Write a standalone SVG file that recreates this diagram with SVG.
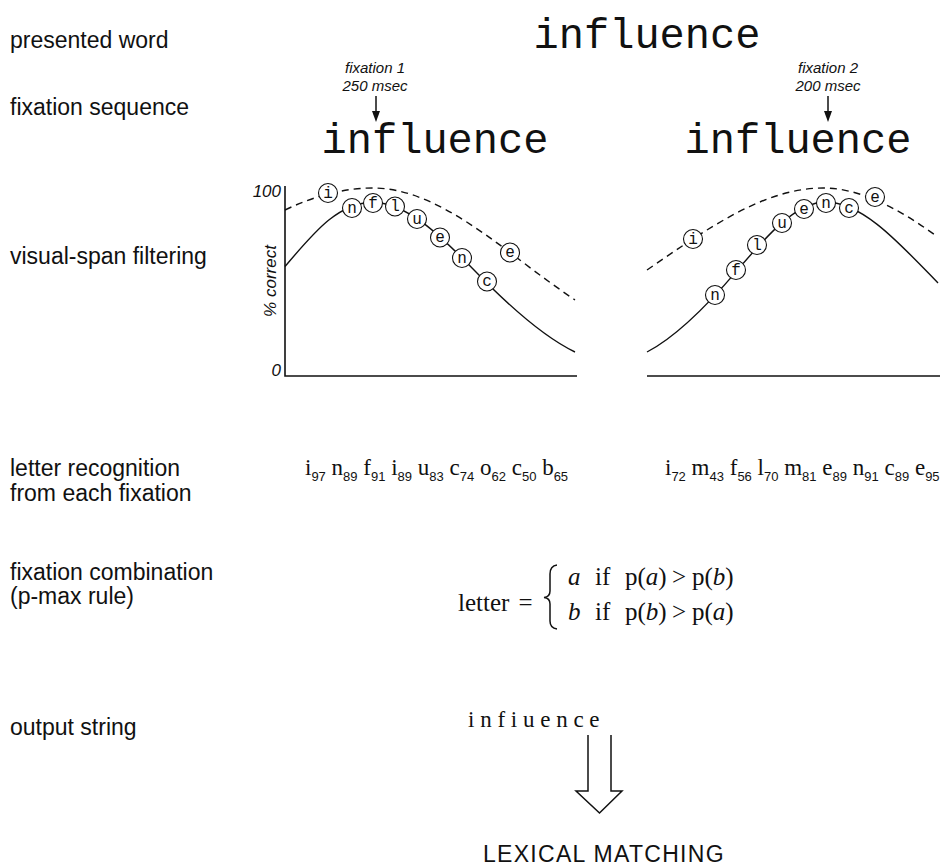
<svg xmlns="http://www.w3.org/2000/svg" width="945" height="867" viewBox="0 0 945 867">
<style>
.lbl{font-family:"Liberation Sans",Arial,sans-serif;font-size:23px;fill:#111}
.mono{font-family:"Liberation Mono","Courier New",monospace;font-size:42px;fill:#111;text-anchor:middle}
.fix{font-family:"Liberation Sans",Arial,sans-serif;font-style:italic;font-size:15px;fill:#111;text-anchor:middle}
.ax{font-family:"Liberation Sans",Arial,sans-serif;font-style:italic;font-size:17px;fill:#111}
.tm{font-family:"Liberation Serif","Times New Roman",serif;font-size:23px;fill:#111}
.sub{font-family:"Liberation Sans",Arial,sans-serif;font-size:13px}
.fm{font-family:"Liberation Serif","Times New Roman",serif;font-size:25px;fill:#111}
.it{font-style:italic}
.solid{fill:none;stroke:#111;stroke-width:1.4}
.dash{fill:none;stroke:#111;stroke-width:1.4;stroke-dasharray:7 5}
.axis{fill:none;stroke:#111;stroke-width:1.6}
.cir circle{fill:#fff;stroke:#111;stroke-width:1.1}
.cir text{font-family:"Liberation Mono","Courier New",monospace;font-size:16px;fill:#111;text-anchor:middle}
.line{fill:none;stroke:#111;stroke-width:1.5}
</style>
<g id="labels">
<text class="lbl" x="10" y="48">presented word</text>
<text class="lbl" x="10" y="115">fixation sequence</text>
<text class="lbl" x="10" y="264">visual-span filtering</text>
<text class="lbl" x="10" y="476">letter recognition</text>
<text class="lbl" x="10" y="501">from each fixation</text>
<text class="lbl" x="10" y="580">fixation combination</text>
<text class="lbl" x="10" y="604">(p-max rule)</text>
<text class="lbl" x="10" y="735">output string</text>
</g>
<g id="presented-word"><text class="mono" font-size="49" x="647" y="48">influence</text></g>
<g id="fixation1">
<text class="fix" x="375" y="73">fixation 1</text>
<text class="fix" x="375" y="91">250 msec</text>
<text class="mono" x="435" y="153">influence</text>
</g>
<g id="fixation2">
<text class="fix" x="828" y="73">fixation 2</text>
<text class="fix" x="828" y="91">200 msec</text>
<text class="mono" x="798" y="153">influence</text>
</g>
<g id="graph1">
<path class="axis" d="M285,186 V376 H577"/>
<text class="ax" x="281" y="197" text-anchor="end">100</text>
<text class="ax" x="281" y="376" text-anchor="end">0</text>
<text class="ax" font-size="23" transform="translate(276,281) rotate(-90)" text-anchor="middle">% correct</text>
<path class="dash" d="M285,210 C314,196 344,188 373,188 C423,188 472,223.6 522,261.6 C540,275.3 557,287.7 575,300"/>
<path class="solid" transform="translate(0,1.5)" d="M285,265 C314,231 338,201 373,201 C407,201 441,234.5 475,269.5 C508,303.5 542,334.8 575,350.5"/>
<g class="cir">
<circle cx="328" cy="193" r="9.5"/><text x="328" y="197.5">i</text>
<circle cx="352" cy="208" r="9.5"/><text x="352" y="212.5">n</text>
<circle cx="373" cy="203" r="9.5"/><text x="373" y="207.5">f</text>
<circle cx="395" cy="206.5" r="9.5"/><text x="395" y="211">l</text>
<circle cx="417" cy="219" r="9.5"/><text x="417" y="223.5">u</text>
<circle cx="440" cy="237.5" r="9.5"/><text x="440" y="242">e</text>
<circle cx="462" cy="258" r="9.5"/><text x="462" y="262.5">n</text>
<circle cx="487" cy="281.5" r="9.5"/><text x="487" y="286">c</text>
<circle cx="510" cy="252.5" r="9.5"/><text x="510" y="257">e</text>
</g>
</g>
<g id="graph2">
<path class="axis" stroke-width="2" d="M647,376 H940"/>
<path class="dash" d="M647,270 C706,229.5 764,188 823,188 C860,188 898,208.3 935,235"/>
<path class="solid" d="M647,352 C677,336.4 707,305.8 737,270.6 C767,235.4 796,202 826,202 C863,202 901,245 938,283"/>
<g class="cir">
<circle cx="693" cy="239" r="9.5"/><text x="693" y="243.5">i</text>
<circle cx="715" cy="295" r="9.5"/><text x="715" y="299.5">n</text>
<circle cx="736" cy="270" r="9.5"/><text x="736" y="274.5">f</text>
<circle cx="757" cy="245" r="9.5"/><text x="757" y="249.5">l</text>
<circle cx="782" cy="223" r="9.5"/><text x="782" y="227.5">u</text>
<circle cx="804" cy="209" r="9.5"/><text x="804" y="213.5">e</text>
<circle cx="826" cy="203" r="9.5"/><text x="826" y="207.5">n</text>
<circle cx="849" cy="208" r="9.5"/><text x="849" y="212.5">c</text>
<circle cx="875" cy="197" r="9.5"/><text x="875" y="201.5">e</text>
</g>
</g>
<g id="recognition1">
<text class="tm" x="305" y="475" xml:space="preserve">i<tspan class="sub" dy="6">97</tspan><tspan dy="-6"> n</tspan><tspan class="sub" dy="6">89</tspan><tspan dy="-6"> f</tspan><tspan class="sub" dy="6">91</tspan><tspan dy="-6"> i</tspan><tspan class="sub" dy="6">89</tspan><tspan dy="-6"> u</tspan><tspan class="sub" dy="6">83</tspan><tspan dy="-6"> c</tspan><tspan class="sub" dy="6">74</tspan><tspan dy="-6"> o</tspan><tspan class="sub" dy="6">62</tspan><tspan dy="-6"> c</tspan><tspan class="sub" dy="6">50</tspan><tspan dy="-6"> b</tspan><tspan class="sub" dy="6">65</tspan></text>
</g>
<g id="recognition2">
<text class="tm" x="665" y="475" xml:space="preserve">i<tspan class="sub" dy="6">72</tspan><tspan dy="-6"> m</tspan><tspan class="sub" dy="6">43</tspan><tspan dy="-6"> f</tspan><tspan class="sub" dy="6">56</tspan><tspan dy="-6"> l</tspan><tspan class="sub" dy="6">70</tspan><tspan dy="-6"> m</tspan><tspan class="sub" dy="6">81</tspan><tspan dy="-6"> e</tspan><tspan class="sub" dy="6">89</tspan><tspan dy="-6"> n</tspan><tspan class="sub" dy="6">91</tspan><tspan dy="-6"> c</tspan><tspan class="sub" dy="6">89</tspan><tspan dy="-6"> e</tspan><tspan class="sub" dy="6">95</tspan></text>
</g>
<g id="combination">
<text class="fm" font-size="27" word-spacing="3" x="458" y="611" xml:space="preserve">letter =</text>
<path class="line" stroke-width="1.3" d="M557,565 Q550,566 550,574 L550,591 Q550,597 544,597.5 Q550,598 550,604 L550,621 Q550,628 557,629"/>
<text class="fm" y="585"><tspan class="it" x="568">a</tspan><tspan x="595">if</tspan><tspan x="625">p(</tspan><tspan class="it">a</tspan><tspan>)</tspan><tspan x="672">&gt;</tspan><tspan x="692">p(</tspan><tspan class="it">b</tspan><tspan>)</tspan></text>
<text class="fm" y="620"><tspan class="it" x="568">b</tspan><tspan x="595">if</tspan><tspan x="625">p(</tspan><tspan class="it">b</tspan><tspan>)</tspan><tspan x="672">&gt;</tspan><tspan x="692">p(</tspan><tspan class="it">a</tspan><tspan>)</tspan></text>
</g>
<g id="output"><text class="tm" font-size="22" x="468" y="727">i n f i u e n c e</text></g>
<g id="lexical"><text class="lbl" font-size="26" letter-spacing="1.3" x="483" y="862">LEXICAL MATCHING</text></g>
<g id="connectors">
<line class="line" x1="376" y1="96" x2="376" y2="112"/>
<polygon points="372,111 380,111 376,122" fill="#111"/>
<line class="line" x1="828" y1="96" x2="828" y2="112"/>
<polygon points="824,111 832,111 828,122" fill="#111"/>
<path class="line" stroke-width="1.3" d="M588,735 V791 H576 L599.5,813 L622,791 H611 V735"/>
</g>
</svg>
